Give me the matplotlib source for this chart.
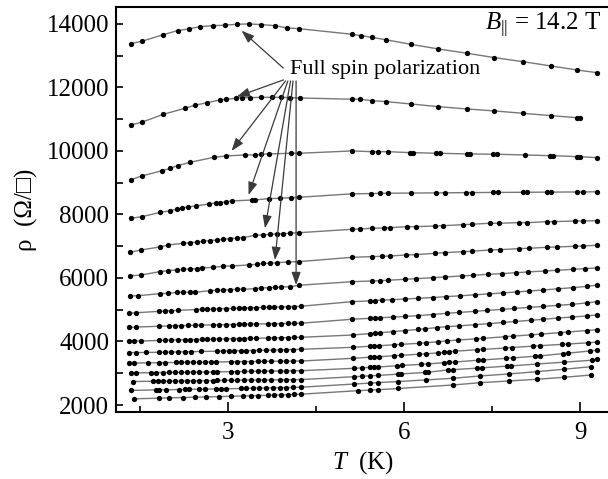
import matplotlib
matplotlib.use("Agg")
import matplotlib.pyplot as plt

plt.rcParams['font.family'] = ['Liberation Serif', 'DejaVu Sans']
plt.rcParams['mathtext.fontset'] = 'custom'
plt.rcParams['mathtext.rm'] = 'Liberation Serif'
plt.rcParams['mathtext.it'] = 'Liberation Serif:italic'

# --- data: T (K) and rho (Ohm per square), one curve per density ---
T_01 = [1.34, 1.53, 1.90, 2.14, 2.33, 2.53, 2.75, 2.95, 3.16, 3.36, 3.57, 3.80, 4.01, 4.21,
        5.11, 5.26, 5.45, 5.70, 6.11, 6.58, 7.07, 7.54, 8.02, 8.50, 8.94, 9.28]
R_01 = [13380, 13455, 13664, 13790, 13844, 13917, 13948, 13961, 13992, 14002, 13980, 13948, 13874, 13852,
        13677, 13633, 13582, 13498, 13362, 13214, 13079, 12940, 12814, 12679, 12553, 12468]

T_02 = [1.34, 1.53, 1.90, 2.27, 2.43, 2.65, 2.86, 2.97, 3.14, 3.24, 3.37, 3.57, 3.75, 3.91, 4.06, 4.22,
        5.11, 5.25, 5.45, 5.70, 6.11, 6.58, 7.07, 7.54, 8.02, 8.50, 8.94, 9.00]
R_02 = [10820, 10905, 11157, 11346, 11440, 11522, 11608, 11629, 11661, 11680, 11680, 11690, 11690, 11690, 11680, 11670,
        11630, 11630, 11585, 11554, 11482, 11397, 11324, 11261, 11188, 11113, 11050, 11050]

T_03 = [1.34, 1.53, 1.88, 2.02, 2.14, 2.36, 2.76, 2.97, 3.29, 3.46, 3.57, 3.69, 4.07, 4.21,
        5.11, 5.45, 5.55, 5.73, 6.10, 6.16, 6.55, 6.61, 7.07, 7.13, 7.52, 7.58, 8.06, 8.48, 8.54, 8.94, 9.00, 9.28]
R_03 = [9088, 9214, 9380, 9456, 9538, 9645, 9802, 9844, 9875, 9875, 9897, 9907, 9928, 9928,
        10001, 9979, 9979, 9979, 9948, 9948, 9928, 9928, 9907, 9907, 9897, 9897, 9875, 9853, 9853, 9822, 9822, 9790]

T_04 = [1.34, 1.53, 1.85, 2.02, 2.13, 2.22, 2.31, 2.45, 2.67, 2.79, 2.87, 2.97, 3.07, 3.41, 3.46, 3.69, 3.89, 4.07, 4.21,
        5.11, 5.44, 5.59, 5.73, 6.11, 6.55, 6.69, 7.06, 7.15, 7.52, 7.60, 8.03, 8.10, 8.43, 8.51, 8.94, 9.05, 9.28]
R_04 = [7880, 7930, 8069, 8120, 8173, 8205, 8237, 8268, 8331, 8363, 8373, 8395, 8426, 8458, 8458, 8500, 8510, 8530, 8543,
        8650, 8660, 8665, 8670, 8675, 8680, 8682, 8690, 8690, 8695, 8695, 8700, 8700, 8705, 8705, 8710, 8710, 8715]

T_05 = [1.33, 1.52, 1.84, 1.98, 2.24, 2.35, 2.47, 2.58, 2.69, 2.81, 2.92, 3.03, 3.15, 3.26, 3.46, 3.60, 3.72, 3.83, 3.94, 4.06, 4.21,
        5.11, 5.25, 5.45, 5.65, 5.76, 6.05, 6.20, 6.53, 6.67, 7.01, 7.15, 7.46, 7.61, 7.95, 8.10, 8.43, 8.55, 8.91, 9.05, 9.28]
R_05 = [6810, 6883, 6977, 7040, 7094, 7112, 7134, 7157, 7176, 7198, 7220, 7239, 7260, 7270, 7345, 7355, 7377, 7387, 7396, 7409, 7427,
        7534, 7544, 7566, 7575, 7585, 7617, 7617, 7638, 7648, 7680, 7692, 7724, 7724, 7743, 7743, 7774, 7774, 7796, 7796, 7806]

T_06 = [1.33, 1.52, 1.84, 1.98, 2.13, 2.24, 2.35, 2.47, 2.55, 2.75, 2.92, 3.06, 3.35, 3.49, 3.60, 3.72, 3.83, 4.03, 4.21,
        5.12, 5.45, 5.62, 5.76, 6.04, 6.20, 6.53, 6.70, 7.01, 7.15, 7.46, 7.63, 7.95, 8.12, 8.43, 8.60, 8.91, 9.05, 9.28]
R_06 = [6064, 6095, 6200, 6231, 6253, 6274, 6284, 6295, 6316, 6337, 6369, 6379, 6410, 6432, 6463, 6463, 6483, 6505, 6515,
        6652, 6673, 6684, 6693, 6725, 6735, 6779, 6799, 6830, 6841, 6883, 6892, 6924, 6935, 6967, 6977, 6999, 7009, 7030]

T_07 = [1.33, 1.47, 1.84, 1.98, 2.13, 2.24, 2.35, 2.44, 2.69, 2.81, 2.92, 3.03, 3.15, 3.26, 3.46, 3.57, 3.69, 3.80, 3.91, 4.06, 4.21,
        5.12, 5.45, 5.59, 5.73, 6.01, 6.21, 6.49, 6.69, 6.98, 7.18, 7.43, 7.66, 7.91, 8.11, 8.40, 8.60, 8.88, 9.08, 9.28]
R_07 = [5434, 5443, 5506, 5518, 5550, 5550, 5550, 5550, 5600, 5613, 5623, 5632, 5644, 5644, 5663, 5686, 5695, 5708, 5717, 5726, 5771,
        5884, 5906, 5916, 5928, 5960, 5979, 6010, 6032, 6064, 6085, 6117, 6136, 6168, 6190, 6221, 6243, 6274, 6294, 6316]

T_08 = [1.32, 1.43, 1.83, 1.93, 2.03, 2.14, 2.45, 2.56, 2.65, 2.75, 2.85, 2.97, 3.08, 3.18, 3.28, 3.38, 3.48, 3.59, 3.69, 3.79, 3.90, 4.02, 4.13, 4.24,
        5.11, 5.42, 5.51, 5.62, 5.79, 6.02, 6.24, 6.50, 6.71, 6.96, 7.20, 7.45, 7.68, 7.92, 8.13, 8.36, 8.63, 8.87, 9.11, 9.29]
R_08 = [4890, 4905, 4950, 4960, 4970, 4980, 5005, 5012, 5018, 5024, 5030, 5036, 5042, 5048, 5054, 5060, 5066, 5072, 5078, 5084, 5090, 5096, 5102, 5110,
        5254, 5280, 5290, 5300, 5315, 5340, 5360, 5385, 5412, 5440, 5470, 5500, 5530, 5560, 5590, 5620, 5660, 5695, 5735, 5780]

T_09 = [1.32, 1.43, 1.83, 2.00, 2.10, 2.20, 2.31, 2.43, 2.54, 2.74, 2.85, 2.97, 3.08, 3.18, 3.28, 3.38, 3.48, 3.68, 3.79, 3.90, 4.02, 4.13, 4.24,
        5.11, 5.42, 5.51, 5.59, 5.81, 6.02, 6.24, 6.49, 6.73, 6.94, 7.20, 7.42, 7.66, 7.87, 8.13, 8.37, 8.63, 8.86, 9.11, 9.28]
R_09 = [4450, 4455, 4480, 4490, 4495, 4500, 4505, 4510, 4515, 4522, 4527, 4530, 4535, 4540, 4545, 4548, 4552, 4558, 4562, 4565, 4568, 4570, 4575,
        4700, 4730, 4740, 4748, 4770, 4790, 4815, 4850, 4888, 4915, 4950, 4980, 5010, 5040, 5075, 5105, 5140, 5170, 5215, 5254]

T_10 = [1.32, 1.40, 1.52, 1.83, 1.93, 2.03, 2.14, 2.26, 2.35, 2.45, 2.56, 2.65, 2.75, 2.85, 2.97, 3.08, 3.18, 3.28, 3.38, 3.48, 3.68, 3.79, 3.90, 4.02, 4.13, 4.24,
        5.13, 5.42, 5.51, 5.59, 5.81, 6.02, 6.24, 6.36, 6.56, 6.73, 6.93, 7.21, 7.44, 7.69, 7.89, 8.17, 8.37, 8.63, 8.86, 9.11, 9.28]
R_10 = [4010, 4012, 4015, 4035, 4040, 4045, 4050, 4055, 4058, 4062, 4066, 4070, 4074, 4078, 4082, 4086, 4090, 4094, 4098, 4102, 4110, 4114, 4118, 4122, 4127, 4132,
        4205, 4250, 4262, 4275, 4310, 4345, 4380, 4400, 4440, 4467, 4490, 4530, 4560, 4600, 4630, 4670, 4700, 4740, 4770, 4805, 4835]

T_11 = [1.32, 1.43, 1.60, 1.83, 1.93, 2.03, 2.14, 2.26, 2.37, 2.54, 2.82, 2.91, 3.02, 3.11, 3.22, 3.31, 3.42, 3.53, 3.65, 3.76, 3.88, 3.99, 4.10, 4.24,
        5.13, 5.42, 5.49, 5.57, 5.82, 5.95, 6.26, 6.37, 6.57, 6.73, 6.91, 7.23, 7.35, 7.72, 7.86, 8.17, 8.34, 8.66, 8.80, 9.11, 9.28]
R_11 = [3650, 3652, 3655, 3662, 3665, 3668, 3672, 3676, 3680, 3686, 3695, 3698, 3702, 3705, 3709, 3712, 3716, 3720, 3725, 3730, 3735, 3740, 3745, 3754,
        3817, 3850, 3858, 3866, 3895, 3910, 3945, 3960, 3990, 4020, 4045, 4085, 4100, 4150, 4170, 4210, 4235, 4280, 4300, 4345, 4370]

T_12 = [1.32, 1.40, 1.63, 1.83, 1.93, 2.11, 2.20, 2.30, 2.40, 2.51, 2.60, 2.71, 2.80, 3.05, 3.16, 3.28, 3.39, 3.51, 3.62, 3.73, 3.88, 3.99, 4.10, 4.24,
        5.13, 5.42, 5.49, 5.57, 5.82, 5.95, 6.26, 6.37, 6.57, 6.68, 6.76, 6.87, 7.24, 7.35, 7.72, 7.83, 8.20, 8.31, 8.69, 8.80, 9.14, 9.28]
R_12 = [3320, 3322, 3328, 3332, 3335, 3340, 3342, 3345, 3348, 3350, 3352, 3355, 3357, 3363, 3366, 3368, 3370, 3372, 3374, 3376, 3378, 3380, 3382, 3385,
        3470, 3505, 3515, 3522, 3550, 3565, 3600, 3612, 3640, 3655, 3680, 3695, 3740, 3752, 3795, 3810, 3855, 3867, 3910, 3922, 3960, 3980]

T_13 = [1.35, 1.43, 1.69, 1.77, 1.89, 2.00, 2.10, 2.20, 2.30, 2.40, 2.51, 2.63, 2.74, 2.82, 3.05, 3.16, 3.28, 3.39, 3.51, 3.62, 3.73, 3.88, 3.99, 4.10, 4.24,
        5.14, 5.29, 5.42, 5.49, 5.55, 5.88, 5.96, 6.28, 6.40, 6.68, 6.76, 6.87, 7.26, 7.35, 7.74, 7.86, 8.23, 8.31, 8.71, 8.80, 9.16, 9.28]
R_13 = [3010, 3012, 3018, 3020, 3023, 3026, 3028, 3030, 3033, 3035, 3037, 3040, 3042, 3044, 3050, 3053, 3056, 3059, 3062, 3065, 3068, 3071, 3074, 3077, 3080,
        3155, 3170, 3185, 3192, 3198, 3235, 3245, 3280, 3295, 3330, 3345, 3355, 3410, 3420, 3470, 3485, 3535, 3545, 3620, 3635, 3700, 3725]

T_14 = [1.38, 1.72, 1.80, 1.89, 2.00, 2.10, 2.20, 2.30, 2.40, 2.51, 2.63, 2.74, 2.82, 2.94, 3.05, 3.16, 3.28, 3.39, 3.51, 3.62, 3.73, 3.88, 3.99, 4.10, 4.24,
        5.15, 5.29, 5.42, 5.55, 5.89, 5.95, 6.35, 6.41, 6.74, 6.83, 7.24, 7.32, 7.76, 7.82, 8.26, 8.73, 9.20, 9.28]
R_14 = [2740, 2748, 2750, 2752, 2755, 2757, 2760, 2762, 2764, 2766, 2768, 2770, 2772, 2775, 2777, 2780, 2782, 2784, 2786, 2788, 2790, 2793, 2795, 2797, 2800,
        2892, 2905, 2920, 2932, 2970, 2978, 3025, 3032, 3103, 3113, 3160, 3170, 3225, 3232, 3290, 3350, 3410, 3440]

T_15 = [1.35, 1.77, 1.83, 1.94, 2.17, 2.26, 2.34, 2.51, 2.60, 2.80, 2.88, 2.97, 3.22, 3.31, 3.42, 3.53, 3.65, 3.76, 3.88, 3.99, 4.10, 4.24,
        5.15, 5.42, 5.55, 5.90, 6.37, 6.83, 7.29, 7.78, 8.26, 8.72, 9.19]
R_15 = [2460, 2475, 2477, 2480, 2487, 2490, 2493, 2498, 2500, 2507, 2510, 2512, 2520, 2523, 2527, 2530, 2535, 2540, 2545, 2550, 2555, 2560,
        2661, 2690, 2705, 2740, 2790, 2841, 2914, 2977, 3050, 3125, 3207]

T_16 = [1.40, 1.83, 2.00, 2.23, 2.43, 2.63, 2.85, 3.05, 3.25, 3.39, 3.51, 3.68, 3.79, 3.90, 4.02, 4.13, 4.24,
        5.21, 5.42, 5.55, 5.90, 6.83, 7.29, 7.78, 8.26, 8.72, 9.19]
R_16 = [2195, 2215, 2225, 2235, 2245, 2255, 2265, 2275, 2285, 2292, 2298, 2305, 2312, 2318, 2325, 2332, 2340,
        2451, 2470, 2480, 2520, 2630, 2702, 2756, 2810, 2872, 2945]

curves_T = [T_01, T_02, T_03, T_04, T_05, T_06, T_07, T_08, T_09, T_10, T_11, T_12, T_13, T_14, T_15, T_16]
curves_R = [R_01, R_02, R_03, R_04, R_05, R_06, R_07, R_08, R_09, R_10, R_11, R_12, R_13, R_14, R_15, R_16]

# arrow heads (where full spin polarization sets in) and arrow tails near the label
arrow_head_T = [3.23, 3.15, 3.06, 3.35, 3.63, 3.80, 4.16]
arrow_head_R = [13790, 11711, 10001, 8615, 7566, 6568, 5780]
arrow_tail_T = [3.94, 3.945, 3.98, 4.02, 4.065, 4.107, 4.16]
arrow_tail_R = [12616, 12238, 12206, 12206, 12206, 12206, 12206]

x_ticks = [3, 6, 9]
y_ticks = [2000, 4000, 6000, 8000, 10000, 12000, 14000]

# --- figure ---
fig = plt.figure(figsize=(6.08, 4.79), dpi=100)
ax = fig.add_axes([0.1908, 0.1399, 0.8125, 0.8455])

for t, r in zip(curves_T, curves_R):
    ax.plot(t, r, color='#777777', linewidth=1.0, zorder=2)
    ax.plot(t, r, linestyle='none', marker='o', markersize=3.8,
            color='black', markeredgewidth=0, zorder=3)

for ht, hr, tt, tr in zip(arrow_head_T, arrow_head_R, arrow_tail_T, arrow_tail_R):
    ax.annotate('', xy=(ht, hr), xytext=(tt, tr),
                arrowprops=dict(arrowstyle='-|>,head_length=0.7,head_width=0.25',
                                color='#3a3a3a', lw=0.9,
                                mutation_scale=11, shrinkA=0, shrinkB=0),
                zorder=4)

ax.text(4.06, 12560, 'Full spin polarization', fontsize=16, ha='left', va='center')
ax.text(9.36, 13960, r'$B_{||}$ = 14.2 T', fontsize=18, ha='right', va='center')

ax.set_xlim(1.092, 9.508)
ax.set_ylim(1780, 14535)
ax.set_xticks(x_ticks)
ax.set_xticks([1.5, 4.5, 7.5], minor=True)
ax.set_yticks(y_ticks)
ax.set_yticks([3000, 5000, 7000, 9000, 11000, 13000], minor=True)
ax.tick_params(which='both', direction='in', labelsize=18, width=1.2,
               top=False, right=False)
ax.tick_params(axis='x', which='major', length=7, pad=7)
ax.tick_params(axis='x', which='minor', length=4)
ax.tick_params(axis='y', which='major', length=5, pad=5)
ax.tick_params(axis='y', which='minor', length=5)
for s in ax.spines.values():
    s.set_linewidth(1.5)

ax.set_xlabel(r'$T$  (K)', fontsize=18, labelpad=4)
ax.set_ylabel('ρ  (Ω/□)', fontsize=18, labelpad=6)

fig.savefig('out.png', dpi=100)
